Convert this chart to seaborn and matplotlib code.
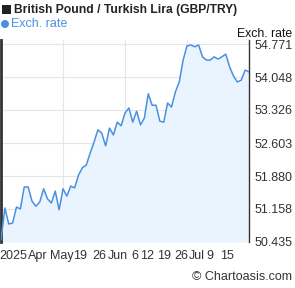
import matplotlib
matplotlib.use("Agg")
import matplotlib.pyplot as plt
from matplotlib.patches import Rectangle, Ellipse
import seaborn as sns
import numpy as np
import pandas as pd

# Data (GBP/TRY exchange rate)
rates = [50.48, 51.18, 50.83, 50.85, 51.20, 51.16, 51.64, 51.64, 51.33, 51.22,
         51.31, 51.60, 51.38, 51.29, 51.55, 51.14, 51.60, 51.44, 51.66, 51.62,
         51.90, 52.06, 52.12, 52.38, 52.62, 52.89, 52.82, 52.54, 52.93, 52.78,
         53.06, 52.98, 53.26, 53.37, 53.06, 53.30, 53.00, 53.15, 53.68, 53.43,
         53.43, 53.08, 53.06, 53.48, 53.39, 53.72, 53.94, 54.42, 54.73, 54.75,
         54.71, 54.75, 54.49, 54.42, 54.42, 54.49, 54.44, 54.49, 54.55, 54.27,
         54.07, 53.94, 53.98, 54.20, 54.16]
y_ticks = [50.435, 51.158, 51.880, 52.603, 53.326, 54.048, 54.771]
y_tick_labels = ["50.435", "51.158", "51.880", "52.603", "53.326", "54.048", "54.771"]
x_tick_labels = ["2025", "Apr", "May", "19", "26", "Jun", "6", "12", "19", "26", "Jul", "9", "15"]
x_tick_pos = [3.1, 9.5, 15.7, 20.4, 25.5, 30.2, 34.6, 37.7, 42.1, 46.5, 50.6, 53.9, 58.3]

df = pd.DataFrame({"idx": np.arange(len(rates)), "rate": rates})

sns.set_style("white")
plt.rcParams["font.family"] = ["Liberation Sans", "DejaVu Sans"]

LINE = "#4a90e2"
FILL = "#eaf4fe"
TXT = "#333333"
W, H = 295, 288

fig = plt.figure(figsize=(2.95, 2.88), dpi=100)
ax = fig.add_axes([1/W, 46/H, 248/W, 202/H])

ymin, ymax = 50.435, 54.859
ax.fill_between(df["idx"], df["rate"], ymin, color=FILL, zorder=1, linewidth=0)
sns.lineplot(data=df, x="idx", y="rate", ax=ax, color=LINE, linewidth=1.1, zorder=3)

ax.set_xlim(0, len(rates) - 1)
ax.set_ylim(ymin, ymax)

# grid
for yt in y_ticks:
    ax.axhline(yt, color="#e6e6e6", linewidth=0.8, zorder=0)
for xv in [16, 32, 48]:
    ax.axvline(xv, color="#e6e6e6", linewidth=0.8, zorder=0)

ax.set_yticks(y_ticks)
ax.set_yticklabels(y_tick_labels)
ax.yaxis.tick_right()
ax.tick_params(axis="y", length=0, pad=4, labelsize=9, labelcolor=TXT)
ax.set_xticks(x_tick_pos)
ax.set_xticklabels(x_tick_labels)
ax.tick_params(axis="x", length=0, pad=6, labelsize=9, labelcolor=TXT)
ax.set_xlabel("")
ax.set_ylabel("")

for s in ["top", "bottom"]:
    ax.spines[s].set_visible(False)
ax.spines["left"].set_color("#333333")
ax.spines["left"].set_linewidth(2)
ax.spines["right"].set_color("#333333")
ax.spines["right"].set_linewidth(1)

# header
fig.patches.append(Rectangle((2/W, 1 - 14/H), 9/W, 9/H, transform=fig.transFigure,
                             facecolor="#222222", edgecolor="none"))
fig.text(14/W, 1 - 10/H, "British Pound / Turkish Lira (GBP/TRY)", fontsize=8.7,
         fontweight="bold", color="#222222", va="center", ha="left")
fig.patches.append(Ellipse((5/W, 1 - 24/H), 8/W, 8/H, transform=fig.transFigure,
                           facecolor=LINE, edgecolor="none"))
fig.text(11/W, 1 - 24/H, "Exch. rate", fontsize=9, color=LINE, va="center", ha="left")
fig.text(292/W, 1 - 34/H, "Exch. rate", fontsize=8.8, color="#111111", va="center", ha="right")
fig.text(292/W, 1 - 277/H, "\u00A9 Chartoasis.com", fontsize=9, color=TXT, va="center", ha="right")

fig.savefig("out.png", dpi=100)
